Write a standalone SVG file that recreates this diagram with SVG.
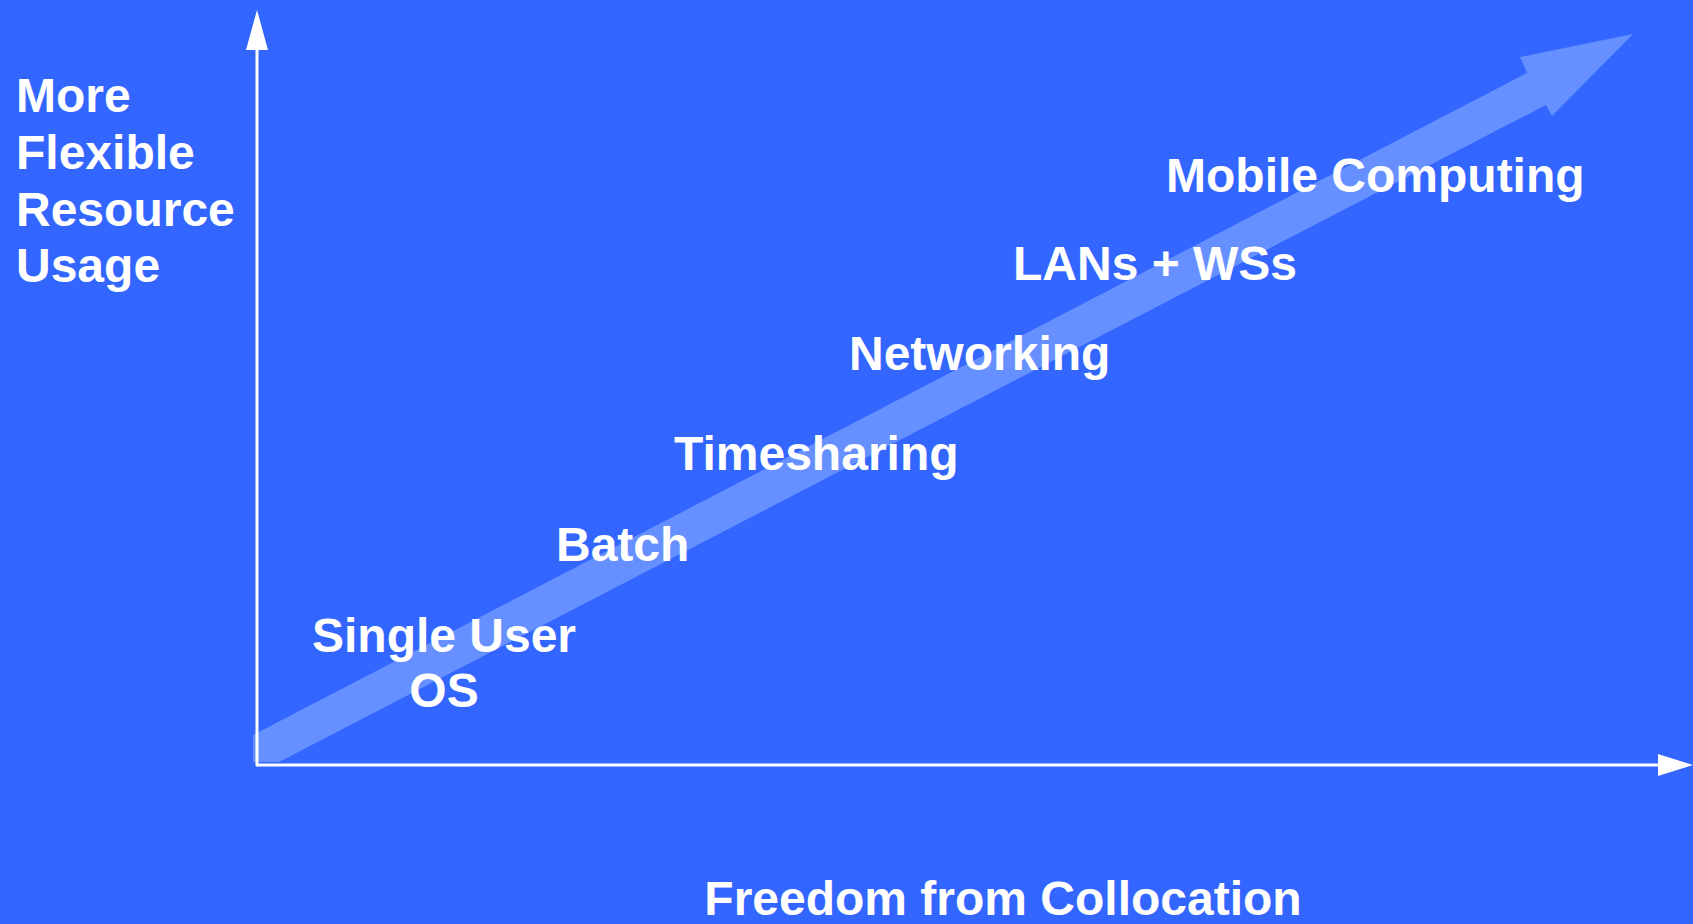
<svg xmlns="http://www.w3.org/2000/svg" width="1693" height="924" viewBox="0 0 1693 924">
  <style>
    .lbl { font-family: "Liberation Sans", Arial, sans-serif; font-weight: bold; font-size: 48px; fill: #FFFFFF; }
    .axis { stroke: #FFFFFF; stroke-width: 3; fill: none; }
    .head { fill: #FFFFFF; }
  </style>
  <rect x="0" y="0" width="1693" height="924" fill="#3366FF"/>
  <g id="trend-arrow">
    <polygon points="253,735 1527,73 1520,57 1633,34 1552,116 1546,105 279,762 253,762" fill="#6690FF"/>
  </g>
  <g id="connectors">
    <line class="axis" x1="257" y1="766" x2="257" y2="45"/>
    <polygon class="head" points="257,10 246,50 268,50"/>
    <line class="axis" x1="256" y1="765" x2="1662" y2="765"/>
    <polygon class="head" points="1658,754 1693,765 1658,776"/>
  </g>
  <g id="y-label">
    <text class="lbl" x="16" y="112">More</text>
    <text class="lbl" x="16" y="169">Flexible</text>
    <text class="lbl" x="16" y="226">Resource</text>
    <text class="lbl" x="16" y="282">Usage</text>
  </g>
  <g id="x-label">
    <text class="lbl" x="1003" y="915" text-anchor="middle">Freedom from Collocation</text>
  </g>
  <g id="single-user-os">
    <text class="lbl" x="444" y="652" text-anchor="middle">Single User</text>
    <text class="lbl" x="444" y="707" text-anchor="middle">OS</text>
  </g>
  <g id="batch">
    <text class="lbl" x="556" y="561">Batch</text>
  </g>
  <g id="timesharing">
    <text class="lbl" x="674" y="470">Timesharing</text>
  </g>
  <g id="networking">
    <text class="lbl" x="849" y="370">Networking</text>
  </g>
  <g id="lans-wss">
    <text class="lbl" x="1013" y="280">LANs + WSs</text>
  </g>
  <g id="mobile-computing">
    <text class="lbl" x="1166" y="192">Mobile Computing</text>
  </g>
</svg>
